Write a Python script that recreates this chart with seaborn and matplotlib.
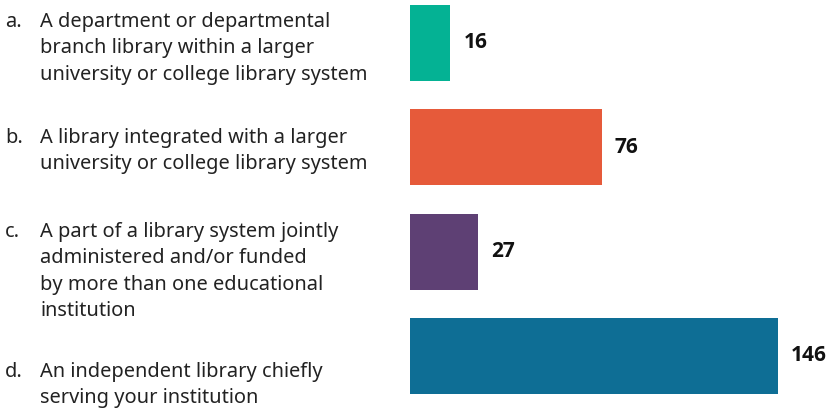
import matplotlib
matplotlib.use('Agg')
import matplotlib.pyplot as plt
import seaborn as sns
import pandas as pd

# Data
letters = ['a.', 'b.', 'c.', 'd.']
categories = [
    'A department or departmental\nbranch library within a larger\nuniversity or college library system',
    'A library integrated with a larger\nuniversity or college library system',
    'A part of a library system jointly\nadministered and/or funded\nby more than one educational\ninstitution',
    'An independent library chiefly\nserving your institution',
]
counts = [16, 76, 27, 146]
colors = ['#04B294', '#E65A3A', '#5E4074', '#0E6E95']

sns.set_theme(style='white')
plt.rcParams['font.family'] = ['Noto Sans', 'DejaVu Sans']

df = pd.DataFrame({'category': categories, 'count': counts})

W, H = 831, 409
fig = plt.figure(figsize=(W / 100, H / 100), dpi=100)
ax = fig.add_axes([410 / W, 0, 1 - 410 / W, 1])

sns.barplot(data=df, y='category', x='count', hue='category', palette=colors,
            legend=False, width=0.728, saturation=1, linewidth=0, ax=ax)

ax.set_xlim(0, 421 / 2.52)
ax.set_ylim(3.508, -0.412)
ax.set_axis_off()

# value labels
for i, v in enumerate(counts):
    ax.annotate(str(v), (v, i), xytext=(9.5, 0), textcoords='offset points',
                ha='left', va='center', fontsize=15, fontweight='bold',
                family=['Open Sans', 'DejaVu Sans'], color='#111111')

# left-hand labels (first-line baseline in pixels from top)
baselines = [27, 143, 237, 377]
line_gap = 26.3
for letter, cat, b in zip(letters, categories, baselines):
    fig.text(5 / W, 1 - b / H, letter, ha='left', va='baseline',
             fontsize=14.4, color='#222222')
    for k, line in enumerate(cat.split('\n')):
        fig.text(40 / W, 1 - (b + k * line_gap) / H, line, ha='left', va='baseline',
                 fontsize=14.4, color='#222222')

fig.savefig('out.png', dpi=100)
